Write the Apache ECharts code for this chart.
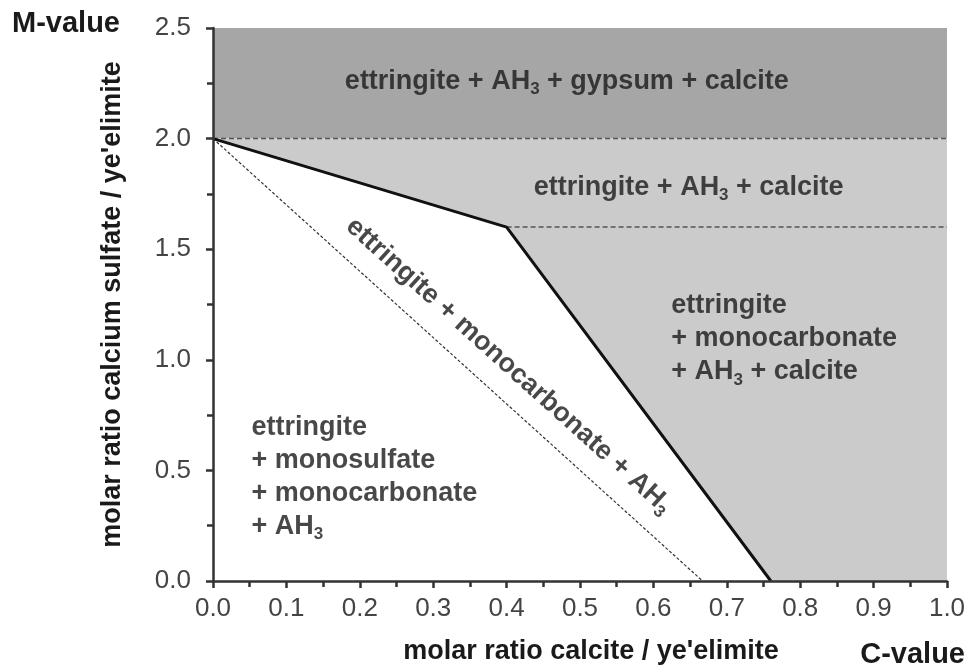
<!DOCTYPE html>
<html>
<head>
<meta charset="utf-8">
<script src="https://cdn.jsdelivr.net/npm/echarts@6/dist/echarts.min.js"></script>
<style>
  html, body { margin: 0; padding: 0; background: #fff; }
  #main { width: 975px; height: 670px; }
</style>
</head>
<body>
<div id="main"></div>
<script>
var myChart = echarts.init(document.getElementById('main'));

// phase regions (C-value, M-value)
var regionTop = [[0, 2.0], [1.0, 2.0], [1.0, 2.5], [0, 2.5]];
var regionCalcite = [[0, 2.0], [1.0, 2.0], [1.0, 0], [0.76, 0], [0.4, 1.6]];
// boundaries
var boundaryLine = [[0, 2.0], [0.4, 1.6], [0.76, 0]];
var diagDashLine = [[0, 2.0], [0.667, 0]];
var dashLine20 = [[0, 2.0], [1.0, 2.0]];
var dashLine16 = [[0.4, 1.6], [1.0, 1.6]];

// region labels: [C, M]
var labelTop = [0.482, 2.259];
var labelMid = [0.648, 1.78];
var labelRight = [0.625, 1.316];
var labelLeft = [0.053, 0.768];
var labelDiag = [0.403, 0.972];

var fontFam = '"Liberation Sans", Arial, sans-serif';

function polySeries(pts, color) {
    return {
        type: 'custom',
        silent: true,
        z: 1,
        data: [0],
        renderItem: function (params, api) {
            return {
                type: 'polygon',
                shape: { points: pts.map(function (p) { return api.coord(p); }) },
                style: { fill: color }
            };
        }
    };
}

function lineSeries(data, color, width, type, z) {
    return {
        type: 'line',
        data: data,
        symbol: 'none',
        silent: true,
        z: z,
        lineStyle: { color: color, width: width, type: type }
    };
}

var rich = {
    b: { fontFamily: fontFam, fontSize: 27, fontWeight: 'bold', color: '#1a1a1a', lineHeight: 33 },
    s: { fontFamily: fontFam, fontSize: 17, fontWeight: 'bold', color: '#1a1a1a', lineHeight: 14, verticalAlign: 'bottom' }
};

function lbl(pos, text, opts) {
    return {
        value: pos,
        label: Object.assign({ show: true, formatter: text, rich: rich }, opts)
    };
}

option = {
    animation: false,
    grid: { left: 213, right: 28, top: 28, bottom: 86 },
    xAxis: {
        type: 'value',
        min: 0, max: 1.0, interval: 0.1,
        z: 10,
        name: 'molar ratio calcite / ye\'elimite',
        nameLocation: 'middle',
        nameGap: 57,
        nameTextStyle: { fontFamily: fontFam, fontSize: 27, fontWeight: 'bold', color: '#1a1a1a', padding: [0, 0, 0, 22] },
        splitLine: { show: false },
        axisLine: { lineStyle: { color: '#333', width: 2.5 } },
        axisTick: { show: true, length: 7, lineStyle: { color: '#333', width: 2.5 } },
        minorTick: { show: true, splitNumber: 2, length: 6, lineStyle: { color: '#333', width: 2.5 } },
        axisLabel: {
            margin: 15, fontFamily: fontFam, fontSize: 26, color: '#444',
            formatter: function (v) { return v.toFixed(1); }
        }
    },
    yAxis: {
        type: 'value',
        min: 0, max: 2.5, interval: 0.5,
        z: 10,
        name: 'molar ratio calcium sulfate / ye\'elimite',
        nameLocation: 'middle',
        nameGap: 87,
        nameTextStyle: { fontFamily: fontFam, fontSize: 27, fontWeight: 'bold', color: '#1a1a1a' },
        splitLine: { show: false },
        axisLine: { show: true, lineStyle: { color: '#333', width: 2.5 } },
        axisTick: { show: true, length: 7, lineStyle: { color: '#333', width: 2.5 } },
        minorTick: { show: true, splitNumber: 2, length: 6, lineStyle: { color: '#333', width: 2.5 } },
        axisLabel: {
            margin: 22, fontFamily: fontFam, fontSize: 26, color: '#444',
            formatter: function (v) { return v.toFixed(1); }
        }
    },
    graphic: [
        { type: 'text', left: 12, top: 9, style: { text: 'M-value', font: 'bold 29px ' + fontFam, fill: '#1a1a1a' } },
        { type: 'text', right: 10, top: 640, style: { text: 'C-value', font: 'bold 29px ' + fontFam, fill: '#1a1a1a' } }
    ],
    series: [
        polySeries(regionTop, '#a6a6a6'),
        polySeries(regionCalcite, '#cbcbcb'),
        lineSeries(dashLine20, '#555', 1.5, [5, 3], 2),
        lineSeries(dashLine16, '#555', 1.5, [5, 3], 2),
        lineSeries(diagDashLine, '#333', 1.2, [3, 2], 2),
        lineSeries(boundaryLine, '#111', 3, 'solid', 3),
        {
            type: 'scatter',
            symbolSize: 1,
            silent: true,
            z: 5,
            itemStyle: { color: 'rgba(0,0,0,0)' },
            data: [
                lbl(labelTop, '{b|ettringite + AH}{s|3}{b| + gypsum + calcite}', { position: 'inside' }),
                lbl(labelMid, '{b|ettringite + AH}{s|3}{b| + calcite}', { position: 'inside' }),
                lbl(labelRight, '{b|ettringite}\n{b|+ monocarbonate}\n{b|+ AH}{s|3}{b| + calcite}',
                    { position: [0, 0], align: 'left', verticalAlign: 'top' }),
                lbl(labelLeft, '{b|ettringite}\n{b|+ monosulfate}\n{b|+ monocarbonate}\n{b|+ AH}{s|3}',
                    { position: [0, 0], align: 'left', verticalAlign: 'top' }),
                lbl(labelDiag, '{b|ettringite + monocarbonate + AH}{s|3}', { position: 'inside', rotate: -42 })
            ]
        }
    ]
};

myChart.setOption(option);
</script>
</body>
</html>
